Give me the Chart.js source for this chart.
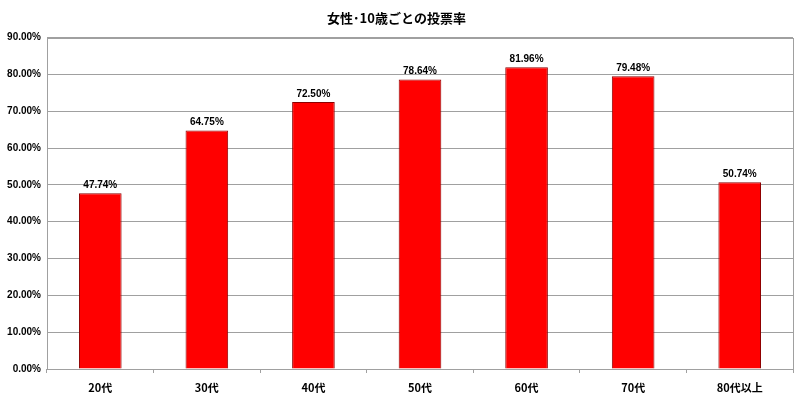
<!DOCTYPE html>
<html>
<head>
<meta charset="utf-8">
<script src="https://cdn.jsdelivr.net/npm/chart.js@4/dist/chart.umd.min.js"></script>
<style>
  html, body { margin: 0; padding: 0; background: #fff; }
  #wrap { width: 800px; height: 400px; }
</style>
</head>
<body>
<div id="wrap"><canvas id="grafico"></canvas></div>
<script>
// datos
const categorias = ["20代", "30代", "40代", "50代", "60代", "70代", "80代以上"];
const votos = [47.74, 64.75, 72.50, 78.64, 81.96, 79.48, 50.74];
const ticksY = [0, 10, 20, 30, 40, 50, 60, 70, 80, 90];

const fuente = '"Liberation Sans", Arial, "Noto Sans CJK JP", sans-serif';

// marco del area del grafico + etiquetas sobre las barras
const extras = {
  id: 'extras',
  afterDraw(chart) {
    const ctx = chart.ctx;
    const a = chart.chartArea;
    ctx.save();
    ctx.strokeStyle = '#a0a0a0';
    ctx.lineWidth = 1;
    ctx.strokeRect(Math.round(a.left) + 0.5, Math.round(a.top) + 0.5, Math.round(a.right - a.left), Math.round(a.bottom - a.top));
    ctx.fillStyle = '#000';
    ctx.font = 'bold 10px ' + fuente;
    ctx.textAlign = 'center';
    ctx.textBaseline = 'bottom';
    chart.getDatasetMeta(0).data.forEach((bar, i) => {
      ctx.fillText(votos[i].toFixed(2) + '%', bar.x, bar.y - 3);
    });
    ctx.restore();
  }
};

let grafico = document.getElementById("grafico").getContext('2d');

var chart = new Chart(grafico, {
  type: 'bar',
  data: {
    labels: categorias,
    datasets: [{
      label: '投票率',
      data: votos,
      backgroundColor: '#ff0000',
      borderColor: '#8c0000',
      borderWidth: 1,
      categoryPercentage: 1,
      barPercentage: 0.4
    }]
  },
  options: {
    responsive: true,
    maintainAspectRatio: false,
    animation: false,
    layout: { padding: { left: 0, right: 7, top: 0, bottom: 0 } },
    plugins: {
      legend: { display: false },
      tooltip: { enabled: false },
      title: {
        display: true,
        text: '女性･10歳ごとの投票率',
        color: '#000',
        font: { family: '"Noto Sans CJK JP", sans-serif', size: 13, weight: 'bold' },
        padding: { top: 10, bottom: 12 }
      }
    },
    scales: {
      x: {
        grid: {
          offset: true,
          drawOnChartArea: false,
          drawTicks: true,
          tickLength: 4,
          color: '#a0a0a0'
        },
        border: { display: false },
        ticks: {
          color: '#000',
          padding: 8,
          font: { family: '"Noto Sans CJK JP", sans-serif', size: 11, weight: 'bold' }
        },
        afterFit(scale) { scale.height = 31; }
      },
      y: {
        min: 0,
        max: 90,
        afterBuildTicks(scale) { scale.ticks = ticksY.map(v => ({ value: v })); },
        grid: { color: '#a0a0a0', drawTicks: false },
        border: { display: false },
        ticks: {
          color: '#000',
          padding: 6,
          font: { family: fuente, size: 10, weight: 'bold' },
          callback: v => v.toFixed(2) + '%'
        },
        afterFit(scale) { scale.width = 47; }
      }
    }
  },
  plugins: [extras]
});
</script>
</body>
</html>
